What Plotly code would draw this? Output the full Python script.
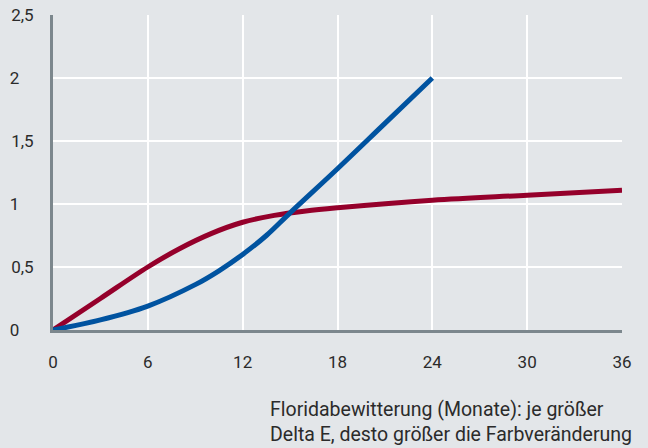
import plotly.graph_objects as go

# Data
months_red = [0, 3, 6, 8, 10, 12, 14, 16, 18, 24, 30, 36]
delta_red = [0, 0.25, 0.50, 0.645, 0.765, 0.855, 0.91, 0.945, 0.97, 1.03, 1.07, 1.11]

months_blue = [0, 3, 6, 9, 10.5, 12, 13.5, 15, 18, 21, 24]
delta_blue = [0, 0.08, 0.19, 0.36, 0.47, 0.60, 0.75, 0.93, 1.28, 1.64, 2.0]

x_ticks = [0, 6, 12, 18, 24, 30, 36]
y_ticks = [0, 0.5, 1, 1.5, 2, 2.5]
y_labels = ["0\u2008\u2007", "0,5", "1\u2008\u2007", "1,5", "2\u2008\u2007", "2,5"]

title_text = "Floridabewitterung (Monate): je größer<br>Delta E, desto größer die Farbveränderung"

BG = "#e3e6e9"
AXIS = "#7c878d"
TEXT = "#2b2b2b"
FONT = "Roboto"

fig = go.Figure()
fig.add_trace(go.Scatter(x=months_red, y=delta_red, mode="lines",
                         line=dict(color="#95002b", width=5, shape="spline", smoothing=1.0),
                         showlegend=False, hoverinfo="skip"))
fig.add_trace(go.Scatter(x=months_blue, y=delta_blue, mode="lines",
                         line=dict(color="#0053a0", width=5, shape="spline", smoothing=1.0),
                         showlegend=False, hoverinfo="skip"))

fig.update_layout(
    width=648, height=448,
    paper_bgcolor=BG, plot_bgcolor=BG,
    margin=dict(l=53, r=26, t=15, b=118),
    font=dict(family=FONT, size=17, color=TEXT),
    xaxis=dict(range=[0, 36], tickvals=x_ticks, ticktext=[str(v) for v in x_ticks],
               showgrid=True, gridcolor="white", gridwidth=2, zeroline=False,
               showline=True, linecolor=AXIS, linewidth=3, automargin=False,
               ticks="outside", ticklen=0, tickcolor=BG, ticklabelstandoff=15,
               tickfont=dict(family=FONT, size=17, color=TEXT), fixedrange=True),
    yaxis=dict(range=[0, 2.5], tickvals=y_ticks, ticktext=y_labels,
               showgrid=True, gridcolor="white", gridwidth=2, zeroline=False,
               showline=True, linecolor=AXIS, linewidth=3, automargin=False,
               ticks="outside", ticklen=0, tickcolor=BG, ticklabelstandoff=13,
               tickfont=dict(family=FONT, size=17, color=TEXT), fixedrange=True),
    annotations=[dict(text=title_text, xref="paper", yref="paper",
                      x=(268 - 53) / 569, y=-(396 - 330) / 315,
                      xanchor="left", yanchor="top", align="left", showarrow=False,
                      font=dict(family=FONT, size=19.5, color=TEXT))],
)

fig.write_html(
    "out.html",
    config={"displayModeBar": False},
    post_script="document.body.style.margin='0';document.body.style.background='" + BG + "';",
)
